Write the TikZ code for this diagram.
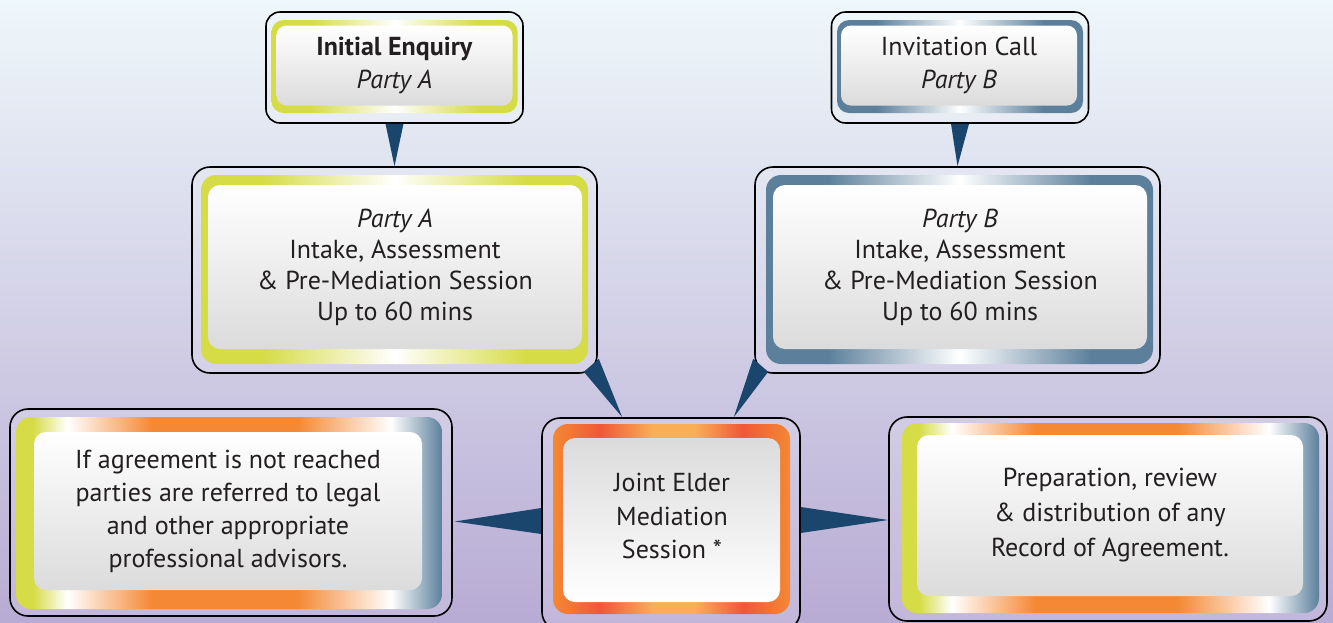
\documentclass[tikz,border=0pt]{standalone}
\usepackage{fontspec}
\setmainfont{PT Sans}
\usetikzlibrary{calc}

\definecolor{bgtop}{RGB}{238,247,250}
\definecolor{bgmid}{RGB}{216,216,235}
\definecolor{bgbot}{RGB}{184,171,212}
\definecolor{wedgeblue}{RGB}{26,70,110}
\definecolor{inktext}{RGB}{35,31,32}
\definecolor{lime}{RGB}{214,220,70}
\definecolor{steel}{RGB}{92,128,156}
\definecolor{tangerine}{RGB}{244,136,52}
\definecolor{ember}{RGB}{240,88,54}
\definecolor{apricot}{RGB}{250,174,86}

\pgfdeclarehorizontalshading{framelime}{100bp}{color(0bp)=(lime); color(25bp)=(lime); color(33bp)=(lime); color(50bp)=(white); color(67bp)=(lime); color(75bp)=(lime); color(100bp)=(lime)}
\pgfdeclarehorizontalshading{framesteel}{100bp}{color(0bp)=(steel); color(25bp)=(steel); color(33bp)=(steel); color(50bp)=(white); color(67bp)=(steel); color(75bp)=(steel); color(100bp)=(steel)}
\pgfdeclarehorizontalshading{framejoint}{100bp}{color(0bp)=(tangerine); color(25bp)=(tangerine); color(35bp)=(ember); color(46bp)=(apricot); color(55bp)=(apricot); color(65bp)=(ember); color(75bp)=(tangerine); color(100bp)=(tangerine)}
\pgfdeclarehorizontalshading{framemix}{100bp}{color(0bp)=(lime); color(25bp)=(lime); color(27bp)=(lime); color(31bp)=(white); color(41bp)=(tangerine); color(58bp)=(tangerine); color(69bp)=(white); color(75bp)=(steel); color(100bp)=(steel)}

\tikzset{
  outerbox/.style={draw=black, line width=1.6pt, rounded corners=18pt, fill=white, fill opacity=0.15, inner sep=0pt},
  framebox/.style={shade, rounded corners=15pt, inner sep=0pt},
  innerbox/.style={top color=white, bottom color=black!14, rounded corners=12pt, inner sep=0pt,
    text=inktext, align=center, font=\fontsize{26}{31}\selectfont},
  wedge/.style={fill=wedgeblue}
}

\begin{document}
\begin{tikzpicture}[x=1pt,y=-1pt]
  \useasboundingbox (0,0) rectangle (1333,622);
  \clip (0,0) rectangle (1333,622);
  \fill[top color=bgtop, middle color=bgmid, bottom color=bgbot] (0,0) rectangle (1333,622);
  %first contact
  \node[outerbox, rounded corners=14pt, minimum width=257pt, minimum height=111pt] (enquiry) at (394.5,67.5) {};
  \node[framebox, shading=framelime, rounded corners=12pt, minimum width=246pt, minimum height=93pt] (enquiryframe) at (394.5,66.5) {};
  \node[innerbox, rounded corners=10pt, minimum width=236pt, minimum height=80pt, font=\fontsize{26}{33}\selectfont] (enquirytext) at (394.5,65.5) {\textbf{Initial Enquiry}\\\textit{Party A}};
  \node[outerbox, rounded corners=14pt, minimum width=257pt, minimum height=111pt] (invite) at (960,67.5) {};
  \node[framebox, shading=framesteel, rounded corners=12pt, minimum width=246pt, minimum height=93pt] (inviteframe) at (960,66.5) {};
  \node[innerbox, rounded corners=10pt, minimum width=236pt, minimum height=80pt, font=\fontsize{26}{33}\selectfont] (invitetext) at (959,65.5) {Invitation Call\\\textit{Party B}};
  %intake sessions
  \node[outerbox, minimum width=405pt, minimum height=206pt] (intakeA) at (394.5,270) {};
  \node[framebox, shading=framelime, minimum width=387pt, minimum height=189pt] (intakeAframe) at (394.5,269.5) {};
  \node[innerbox, minimum width=374pt, minimum height=164pt] (intakeAtext) at (395,267) {\textit{Party A}\\Intake, Assessment\\\& Pre-Mediation Session\\Up to 60 mins};
  \node[outerbox, minimum width=405pt, minimum height=206pt] (intakeB) at (957.5,270) {};
  \node[framebox, shading=framesteel, minimum width=387pt, minimum height=189pt] (intakeBframe) at (959.5,269.5) {};
  \node[innerbox, minimum width=374pt, minimum height=164pt] (intakeBtext) at (960,267) {\textit{Party B}\\Intake, Assessment\\\& Pre-Mediation Session\\Up to 60 mins};
  %joint session
  \node[outerbox, minimum width=258pt, minimum height=212pt] (joint) at (671,524) {};
  \node[framebox, shading=framejoint, minimum width=237pt, minimum height=190pt] (jointframe) at (671.5,519) {};
  \node[innerbox, top color=black!14, bottom color=white, minimum width=217pt, minimum height=164pt] (jointfill) at (671.5,520) {};
  \node[text=inktext, align=center, font=\fontsize{26}{33.5}\selectfont] (jointtext) at (672,516) {Joint Elder\\Mediation\\Session *};
  %outcomes
  \node[outerbox, minimum width=442pt, minimum height=207pt] (advice) at (231,512.5) {};
  \node[framebox, shading=framemix, minimum width=426pt, minimum height=192pt] (adviceframe) at (229,513) {};
  \node[innerbox, minimum width=388pt, minimum height=158pt, font=\fontsize{26}{33}\selectfont] (advicetext) at (228,511) {If agreement is not reached\\parties are referred to legal\\and other appropriate\\professional advisors.};
  \node[outerbox, minimum width=438pt, minimum height=204pt] (record) at (1108,519) {};
  \node[framebox, shading=framemix, minimum width=417pt, minimum height=190pt] (recordframe) at (1110.5,518) {};
  \node[innerbox, minimum width=386pt, minimum height=161pt, font=\fontsize{26}{35}\selectfont] (recordtext) at (1110,515.5) {Preparation, review\\\& distribution of any\\Record of Agreement.};
  %wedges
  \fill[wedge] ($(enquiry.south)+(-9,0)$) -- ($(enquiry.south)+(9,0)$) -- (intakeA.north) -- cycle;
  \fill[wedge] ($(invite.south)+(-9,0)$) -- ($(invite.south)+(9,0)$) -- (intakeB.north) -- cycle;
  \fill[wedge] ($(intakeA.south east)+(-14,-2)$) -- ($(intakeA.south east)+(1,-15)$) -- ($(joint.north west)+(81,0)$) -- cycle;
  \fill[wedge] ($(intakeB.south west)+(14,-2)$) -- ($(intakeB.south west)+(-1,-15)$) -- ($(joint.north east)+(-67,0)$) -- cycle;
  \fill[wedge] ($(joint.west)+(0,-16)$) -- ($(joint.west)+(0,10)$) -- ($(advice.east)+(2,9)$) -- cycle;
  \fill[wedge] ($(joint.east)+(0,-17)$) -- ($(joint.east)+(0,9)$) -- ($(record.west)+(0,1)$) -- cycle;
\end{tikzpicture}
\end{document}
